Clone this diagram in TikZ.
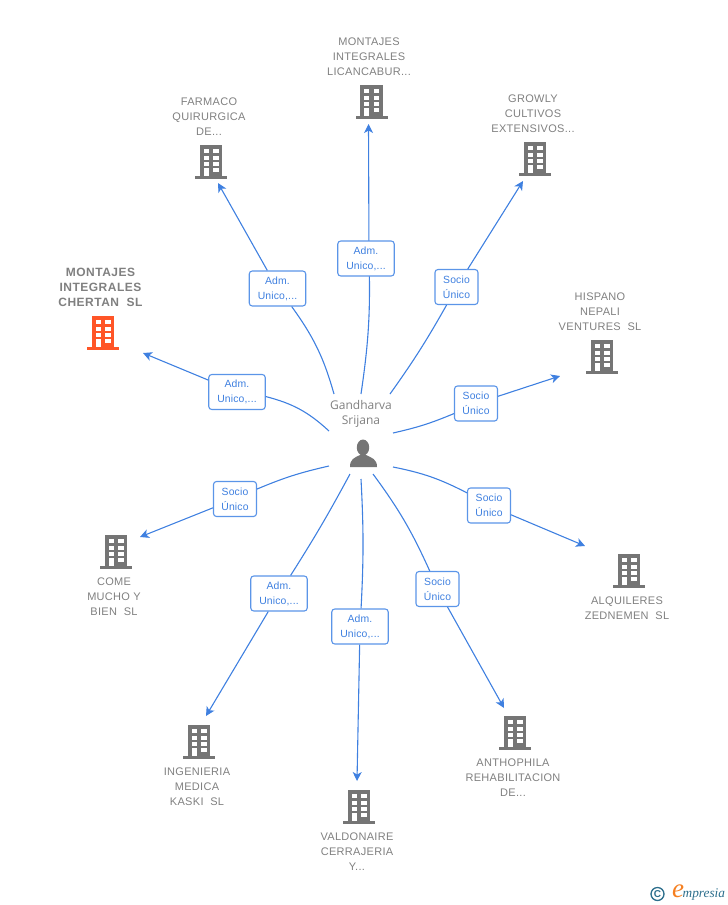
\documentclass[tikz,border=0pt]{standalone}
\usepackage{fontspec}
\setmainfont{Liberation Sans}
\newfontfamily\personfont{Open Sans}
\newfontfamily\logofont{Liberation Serif}
\usetikzlibrary{arrows.meta}
\definecolor{linkblue}{HTML}{3F80E0}
\definecolor{boxblue}{HTML}{5B95E8}
\definecolor{labelgrey}{HTML}{808080}
\definecolor{icongrey}{HTML}{757575}
\definecolor{mainorange}{HTML}{FF5527}
\definecolor{logoteal}{HTML}{2C6E8C}
\definecolor{logoorange}{HTML}{F57F20}
\tikzset{
  company/.style={text=labelgrey,align=center,font=\fontsize{11}{15}\selectfont\addfontfeature{LetterSpace=2.8},inner sep=0pt},
  maincompany/.style={text=labelgrey,align=center,font=\fontsize{12}{15}\bfseries\selectfont\addfontfeature{LetterSpace=4},inner sep=0pt},
  linkbox/.style={draw=boxblue,line width=1.1pt,rounded corners=3pt,fill=white,text=linkblue,align=center,
    font=\fontsize{10.4}{15}\selectfont\addfontfeature{LetterSpace=1.5},minimum height=35pt,inner sep=0pt,
    execute at begin node={\rule{0pt}{9.5pt}}},
  admbox/.style={linkbox,minimum width=56.5pt},
  sociobox/.style={linkbox,minimum width=43pt},
  linkline/.style={draw=linkblue,line width=1.1pt},
  linkarrow/.style={linkline,-{Stealth[length=9pt,width=9pt,inset=2.5pt]}},
  pics/building/.style={code={
    \fill[#1] (-11.3,-34) rectangle (11.3,-2);
    \fill[#1] (-16,-3) rectangle (16,0);
    \fill[white] (-7.5,-30) rectangle (-2.2,-25.7);
    \fill[white] (2.2,-30) rectangle (7.5,-25.7);
    \fill[white] (-7.5,-23.3) rectangle (-2.2,-19);
    \fill[white] (2.2,-23.3) rectangle (7.5,-19);
    \fill[white] (-7.5,-16.7) rectangle (-2.2,-13.3);
    \fill[white] (2.2,-16.7) rectangle (7.5,-13.3);
    \fill[white] (-7.5,-10.7) rectangle (-2.2,-3);
    \fill[white] (2.2,-10.7) rectangle (7.5,-6.7);
  }}
}
\begin{document}
\begin{tikzpicture}[x=1pt,y=-1pt]
\useasboundingbox (0,0) rectangle (728,905);

% link ends
\coordinate (startchertan) at (329,431);
\coordinate (endchertan) at (143,353);
\coordinate (startfarmaco) at (334,394);
\coordinate (endfarmaco) at (218,183);
\coordinate (startlicancabur) at (361,394);
\coordinate (vialicancabur) at (369,258.5);
\coordinate (endlicancabur) at (368.5,124);
\coordinate (startgrowly) at (390,394);
\coordinate (endgrowly) at (523,181);
\coordinate (starthispano) at (393,433);
\coordinate (endhispano) at (560,376);
\coordinate (startalquileres) at (393,467);
\coordinate (endalquileres) at (585,546);
\coordinate (startanthophila) at (373,474);
\coordinate (endanthophila) at (504,708);
\coordinate (startvaldonaire) at (361,479);
\coordinate (endvaldonaire) at (357,781);
\coordinate (startingenieria) at (350,474);
\coordinate (endingenieria) at (206,716);
\coordinate (startcome) at (329,466);
\coordinate (endcome) at (140,537);

% this one passes off centre behind its box
\draw[linkline] (startlicancabur) to[bend right=5] (vialicancabur);
\draw[linkarrow] (vialicancabur) -- (endlicancabur);

% boxes on the links
\node[admbox] (boxchertan) at (237,392) {Adm.\\Unico,...};
\node[admbox] (boxfarmaco) at (277.5,288.5) {Adm.\\Unico,...};
\node[admbox] (boxlicancabur) at (366,258.5) {Adm.\\Unico,...};
\node[sociobox] (boxgrowly) at (456.5,287) {Socio\\Único};
\node[sociobox] (boxhispano) at (476,403.5) {Socio\\Único};
\node[sociobox] (boxalquileres) at (489,505.5) {Socio\\Único};
\node[sociobox] (boxanthophila) at (437.5,589) {Socio\\Único};
\node[admbox] (boxvaldonaire) at (360,626.5) {Adm.\\Unico,...};
\node[admbox] (boxingenieria) at (279,593.5) {Adm.\\Unico,...};
\node[sociobox] (boxcome) at (235,499) {Socio\\Único};

% links
\draw[linkline] (startchertan) to[bend right=14] (boxchertan);
\draw[linkarrow] (boxchertan) -- (endchertan);
\draw[linkline] (startfarmaco) to[bend right=10] (boxfarmaco);
\draw[linkarrow] (boxfarmaco) -- (endfarmaco);
\draw[linkline] (startgrowly) to[bend right=3] (boxgrowly);
\draw[linkarrow] (boxgrowly) -- (endgrowly);
\draw[linkline] (starthispano) to[bend right=5] (boxhispano);
\draw[linkarrow] (boxhispano) -- (endhispano);
\draw[linkline] (startalquileres) to[bend left=8] (boxalquileres);
\draw[linkarrow] (boxalquileres) -- (endalquileres);
\draw[linkline] (startanthophila) to[bend left=6] (boxanthophila);
\draw[linkarrow] (boxanthophila) -- (endanthophila);
\draw[linkline] (startvaldonaire) to[bend left=3] (boxvaldonaire);
\draw[linkarrow] (boxvaldonaire) -- (endvaldonaire);
\draw[linkline] (startingenieria) to[bend left=2] (boxingenieria);
\draw[linkarrow] (boxingenieria) -- (endingenieria);
\draw[linkline] (startcome) to[bend right=5] (boxcome);
\draw[linkarrow] (boxcome) -- (endcome);

% companies
\pic at (103,350) {building=mainorange};
\pic at (371.5,119) {building=icongrey};
\pic at (211,179) {building=icongrey};
\pic at (535,176) {building=icongrey};
\pic at (602,374) {building=icongrey};
\pic at (629,588) {building=icongrey};
\pic at (515,750) {building=icongrey};
\pic at (359,824) {building=icongrey};
\pic at (199,759) {building=icongrey};
\pic at (116,569) {building=icongrey};

\node[maincompany] (chertan) at (100.5,287) {MONTAJES\\INTEGRALES\\CHERTAN\ \ SL};
\node[company] (licancabur) at (369,57) {MONTAJES\\INTEGRALES\\LICANCABUR...};
\node[company] (farmaco) at (209,116.5) {FARMACO\\QUIRURGICA\\DE...};
\node[company] (growly) at (533,113.5) {GROWLY\\CULTIVOS\\EXTENSIVOS...};
\node[company] (hispano) at (600,311.5) {HISPANO\\NEPALI\\VENTURES\ \ SL};
\node[company] (alquileres) at (627,608) {ALQUILERES\\ZEDNEMEN\ \ SL};
\node[company] (anthophila) at (513,777.5) {ANTHOPHILA\\REHABILITACION\\DE...};
\node[company] (valdonaire) at (357,851.5) {VALDONAIRE\\CERRAJERIA\\Y...};
\node[company] (ingenieria) at (197,786.5) {INGENIERIA\\MEDICA\\KASKI\ \ SL};
\node[company] (come) at (114,596.5) {COME\\MUCHO Y\\BIEN\ \ SL};

% person
\node[text=labelgrey,align=center,inner sep=0pt,font=\personfont\fontsize{12}{15}\selectfont] (gandharva) at (361,414) {Gandharva\\Srijana};
\fill[icongrey] (363,447.5) ellipse (6.2 and 8);
\fill[icongrey] (350,467) .. controls (350,459) and (354,458) .. (360,455) -- (366,455)
  .. controls (372,458) and (377,459) .. (377,467) -- cycle;

% logo
\node[draw=logoteal,line width=1.3pt,circle,minimum size=13pt,inner sep=0pt,text=logoteal,font=\fontsize{10}{10}\bfseries\selectfont] (logoc) at (657.5,894) {C};
\node[text=logoorange,inner sep=0pt,font=\logofont\itshape\fontsize{27}{27}\selectfont] (logoe) at (678,891) {e};
\node[text=logoteal,inner sep=0pt,anchor=west,font=\logofont\itshape\fontsize{13.3}{14}\selectfont] (logotext) at (682.5,895) {mpresia};
\end{tikzpicture}
\end{document}
